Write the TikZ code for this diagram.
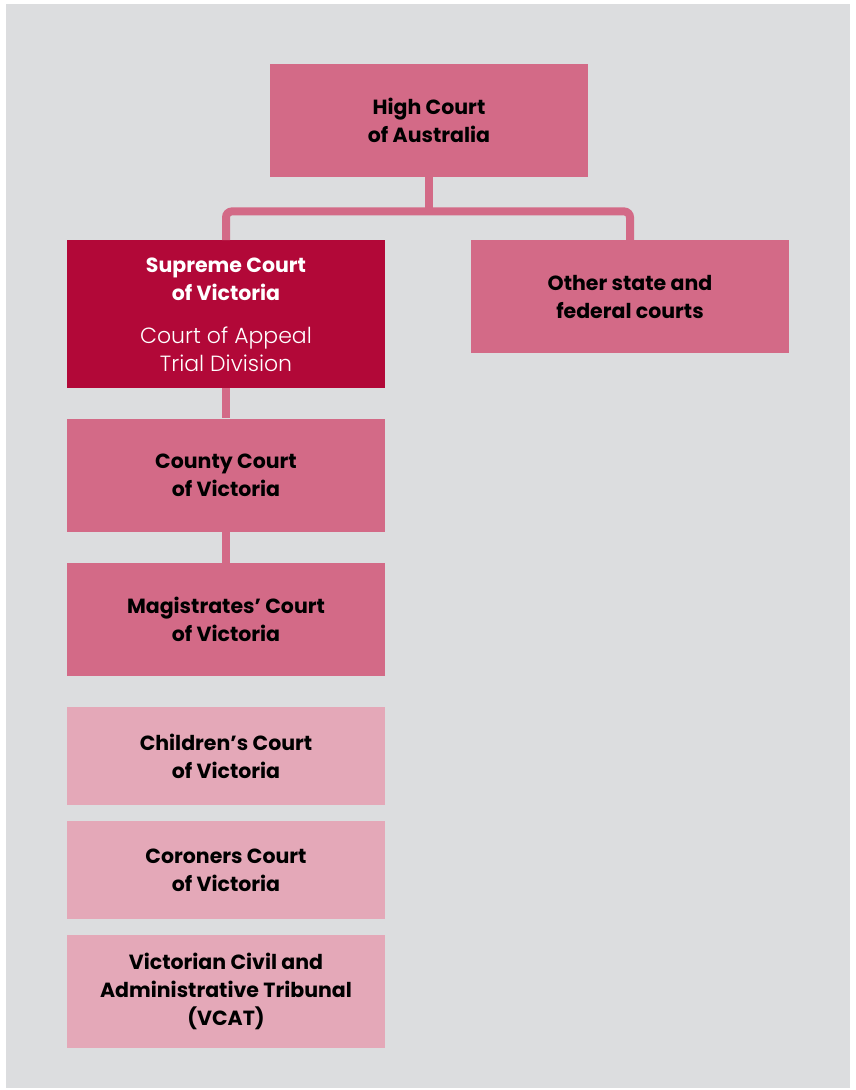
\documentclass[tikz,border=0pt]{standalone}
\usepackage{fontspec}
\setmainfont{Poppins}
\newfontfamily\lightface{Poppins Light}
\usetikzlibrary{positioning}

\definecolor{panelgray}{HTML}{DCDDDF}
\definecolor{rosepink}{HTML}{D36A87}
\definecolor{crimson}{HTML}{B20838}
\definecolor{palepink}{HTML}{E4A8B8}

\tikzset{
    court/.style = {fill=rosepink, minimum width=318pt, minimum height=113pt,
        inner sep=0pt, align=center, font=\bfseries\fontsize{20.5}{28}\selectfont},
    lowcourt/.style = {court, fill=palepink, minimum height=98pt},
    link/.style = {draw=rosepink, line width=8pt, rounded corners=6pt}
}

\newcommand{\division}[1]{{\mdseries\lightface\fontsize{22}{28}\selectfont #1}}

\begin{document}
\begin{tikzpicture} [x=1pt, y=-1pt]

    \useasboundingbox (0,0) rectangle (855,1090);
    \fill [panelgray] (6,4) rectangle (850,1088);

    \node (high) [court, anchor=north] at (429,64) {High Court\\of Australia};
    \node (sup) [court, anchor=north, fill=crimson, text=white, minimum height=148pt,
        text depth=-4pt] at (226,240) {Supreme Court\\of Victoria\\[15pt]
        \division{Court of Appeal}\\\division{Trial Division}};
    \node (oth) [court, anchor=north] at (630,240) {Other state and\\federal courts};
    \node (cty) [court, below = 30pt of sup] {County Court\\of Victoria};
    \node (mag) [court, below = 31pt of cty] {Magistrates’ Court\\of Victoria};
    \node (chi) [lowcourt, below = 31pt of mag] {Children’s Court\\of Victoria};
    \node (cor) [lowcourt, below = 15pt of chi] {Coroners Court\\of Victoria};
    \node (vcat) [lowcourt, below = 16pt of cor, minimum height=113pt]
        {Victorian Civil and\\Administrative Tribunal\\(VCAT)};

    \coordinate [below = 34pt of high.south] (fork);

    % connectors
    \draw [link] (high.south) -- (fork);
    \draw [link] (sup.north) |- (fork) -| (oth.north);
    \draw [link] (sup.south) -- (cty.north);
    \draw [link] (cty.south) -- (mag.north);

\end{tikzpicture}
\end{document}
